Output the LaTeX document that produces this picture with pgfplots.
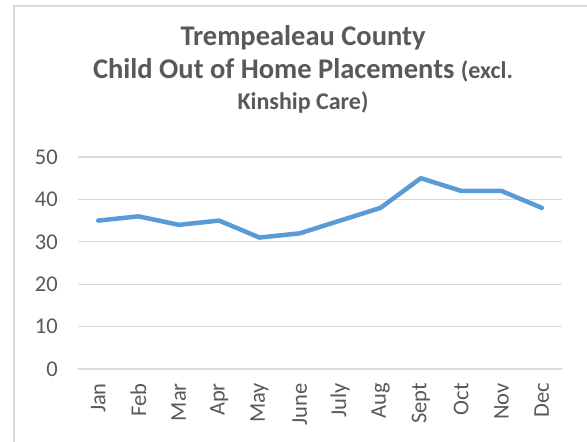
\documentclass[border=0pt]{standalone}
\usepackage{fontspec}
\setmainfont{Carlito}
\usepackage{pgfplots}
\pgfplotsset{compat=1.18}
\definecolor{txtgray}{HTML}{595959}
\definecolor{gridgray}{HTML}{D9D9D9}
\definecolor{linblue}{HTML}{5B9BD5}
\definecolor{framegray}{HTML}{D9D9D9}

\begin{document}
\begin{tikzpicture}
\useasboundingbox (0pt,0pt) rectangle (587pt,442pt);
\fill[white] (0pt,0pt) rectangle (587pt,442pt);
% chart area frame (runs off the right and bottom edge)
\draw[framegray, line width=1.5pt] (14pt,0pt) -- (14pt,436pt) -- (587pt,436pt);

\begin{axis}[
    at={(78pt,73pt)}, anchor=south west,
    scale only axis,
    width=484pt, height=212pt,
    xmin=-0.5, xmax=11.5,
    ymin=0, ymax=50,
    ytick={0,10,...,50},
    xtick={0,...,11},
    xticklabels={Jan,Feb,Mar,Apr,May,June,July,Aug,Sept,Oct,Nov,Dec},
    axis line style={draw=none},
    major tick length=0pt,
    ymajorgrids,
    grid style={gridgray, line width=1.3pt},
    tick label style={font=\fontsize{22.5}{24}\selectfont, text=txtgray},
    /pgf/number format/assume math mode=true,
    yticklabel style={inner sep=0pt, anchor=east, xshift=-20pt},
    xticklabel style={inner sep=0pt, rotate=90, anchor=east, xshift=-14pt},
]
\addplot[linblue, line width=4.5pt, line join=round, line cap=round] coordinates {
(0,35) (1,36) (2,34) (3,35) (4,31) (5,32) (6,35) (7,38) (8,45) (9,42) (10,42) (11,38)
};
\end{axis}

\node[anchor=base, text=txtgray, font=\bfseries\fontsize{28.5}{30}\selectfont, inner sep=0pt] at (303pt,396pt) {Trempealeau County};
\node[anchor=base, text=txtgray, font=\bfseries\fontsize{28.5}{30}\selectfont, inner sep=0pt] at (303pt,363pt) {Child Out of Home Placements {\fontsize{24}{26}\selectfont(excl.}};
\node[anchor=base, text=txtgray, font=\bfseries\fontsize{24}{26}\selectfont, inner sep=0pt] at (303pt,332pt) {Kinship Care)};
\end{tikzpicture}
\end{document}
